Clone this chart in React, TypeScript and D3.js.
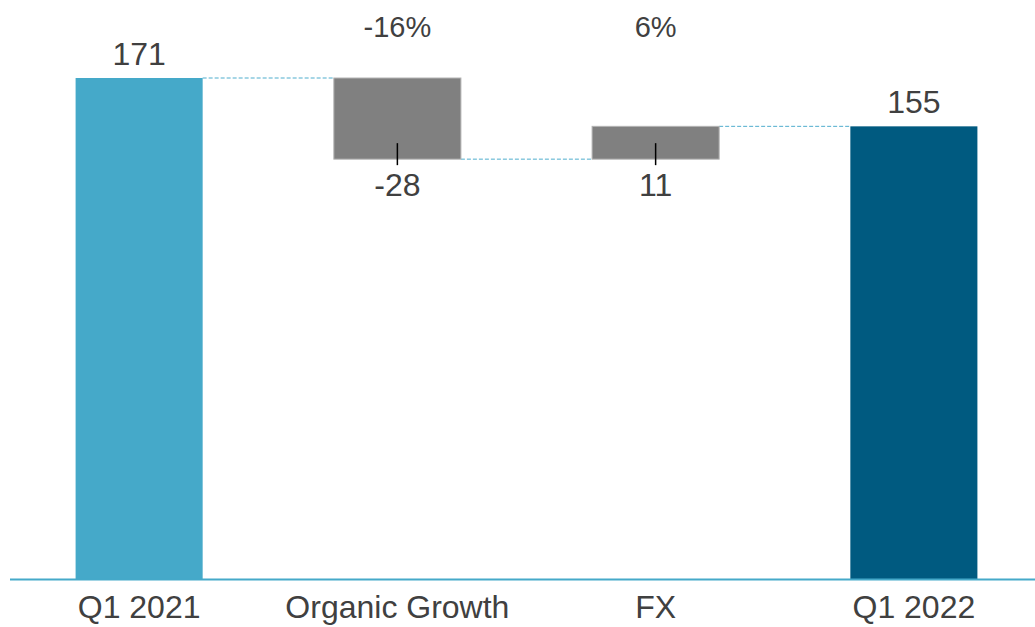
import React from "react";
import * as d3 from "d3";

const categories = ["Q1 2021", "Organic Growth", "FX", "Q1 2022"];
const startValue = 171;
const deltas = [-27.7, 11.2];
const endValue = 154.5;
const percentLabels = ["-16%", "6%"];

const W = 1035;
const H = 627;
const baseY = 579;
const FONT = "'Liberation Sans', Arial, Helvetica, sans-serif";
const TXT = "#404040";
const LIGHT = "#45a9c9";
const DARK = "#005a80";
const GRAY = "#808080";
const DASH = "#4fadcd";

export default function App() {
  const x = d3
    .scaleBand<string>()
    .domain(categories)
    .range([10, 1043])
    .paddingInner(0.508)
    .paddingOuter(0.254);
  const y = d3.scaleLinear().domain([0, 171]).range([baseY, 78]);

  type Step = { cat: string; lo: number; hi: number; value: number; kind: string; pct?: string };
  const steps: Step[] = [];
  steps.push({ cat: categories[0], lo: 0, hi: startValue, value: startValue, kind: "start" });
  let run = startValue;
  deltas.forEach((d, i) => {
    const next = run + d;
    steps.push({
      cat: categories[i + 1],
      lo: Math.min(run, next),
      hi: Math.max(run, next),
      value: d,
      kind: "delta",
      pct: percentLabels[i],
    });
    run = next;
  });
  steps.push({ cat: categories[3], lo: 0, hi: endValue, value: endValue, kind: "end" });

  const levels: number[] = [];
  let r = startValue;
  levels.push(r);
  deltas.forEach((d) => {
    r += d;
    levels.push(r);
  });

  const bw = x.bandwidth();

  return (
    <svg
      width={W}
      height={H}
      style={{ position: "fixed", left: 0, top: 0, background: "#fff" }}
      fontFamily={FONT}
    >
      {levels.map((lv, i) => {
        const x1 = (x(categories[i]) as number) + bw;
        const x2 = x(categories[i + 1]) as number;
        return (
          <line
            key={"c" + i}
            x1={x1}
            x2={x2}
            y1={y(lv)}
            y2={y(lv)}
            stroke={DASH}
            strokeWidth={1}
            strokeDasharray="4,2"
          />
        );
      })}
      {steps.map((s, i) => {
        const bx = x(s.cat) as number;
        const cx = bx + bw / 2;
        const fill = s.kind === "start" ? LIGHT : s.kind === "end" ? DARK : GRAY;
        const top = y(s.hi);
        const bot = y(s.lo);
        return (
          <g key={"b" + i}>
            <rect
              x={bx}
              y={top}
              width={bw}
              height={bot - top}
              fill={fill}
              stroke={s.kind === "delta" ? "#b3b3b3" : "none"}
              strokeWidth={1}
            />
            {s.kind !== "delta" ? (
              <text x={cx} y={top - 13} textAnchor="middle" fontSize={32} fill={TXT}>
                {Math.round(s.value)}
              </text>
            ) : (
              <g>
                <line x1={cx} x2={cx} y1={bot - 16} y2={bot + 6} stroke="#000" strokeWidth={1.5} />
                <text x={cx} y={bot + 37} textAnchor="middle" fontSize={32} fill={TXT}>
                  {Math.round(s.value)}
                </text>
                <text x={cx} y={37} textAnchor="middle" fontSize={29} fill={TXT}>
                  {s.pct}
                </text>
              </g>
            )}
            <text x={cx} y={618} textAnchor="middle" fontSize={32} fill={TXT}>
              {s.cat}
            </text>
          </g>
        );
      })}
      <line x1={10} x2={W} y1={baseY + 0.5} y2={baseY + 0.5} stroke={LIGHT} strokeWidth={2} />
    </svg>
  );
}
